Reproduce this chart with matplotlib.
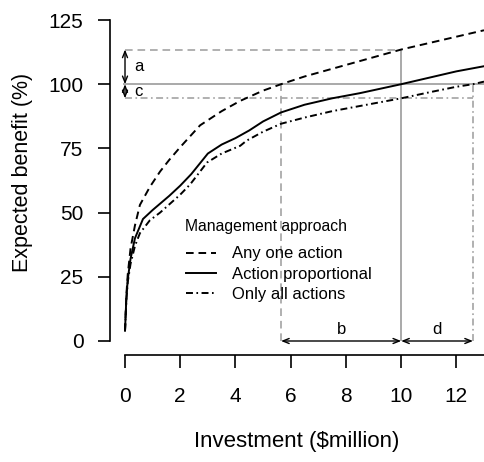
import matplotlib
matplotlib.use("Agg")
import matplotlib.pyplot as plt

plt.rcParams['font.family'] = ['Liberation Sans', 'DejaVu Sans']
plt.rcParams['lines.scale_dashes'] = False

# curves (investment in $million, benefit in %)
any_x = [0, 0.05, 0.1, 0.2, 0.36, 0.54, 0.9, 1.27, 1.6, 2.0, 2.72, 3.5, 4.17, 5.0, 5.65,
         6.5, 7.5, 8.5, 10, 11, 12, 13]
any_y = [4, 18, 26, 36, 45, 53, 60, 66, 70.5, 75.5, 84, 89.5, 93.5, 97.5, 100,
         103, 106, 109, 113.5, 116, 118.5, 121]

prop_x = [0, 0.05, 0.1, 0.2, 0.36, 0.65, 1.0, 1.6, 2.0, 2.4, 3.0, 3.5, 4.0, 4.5, 5.0,
          5.65, 6.5, 7.5, 8.5, 10, 11, 12, 13]
prop_y = [4, 17, 24, 32, 40, 47.5, 51, 56.5, 60.5, 65, 73, 76.5, 79, 82, 85.5,
          89, 92, 94.5, 96.5, 100, 102.5, 105, 107]

all_x = [0, 0.05, 0.1, 0.2, 0.36, 0.54, 0.9, 1.27, 2.0, 2.36, 2.97, 3.5, 4.17, 4.4, 5.0,
         5.65, 6.5, 7.5, 8.5, 10, 11, 12, 12.6, 13]
all_y = [4, 16, 23, 30, 37, 42, 47, 50, 57, 61, 69.5, 73, 76, 78, 81.5,
         84.6, 87, 89.5, 91.5, 94.5, 96.8, 99, 100, 101]

labels = ['Any one action', 'Action proportional', 'Only all actions']

# reference levels
target = 100
any_at10 = 113.5
all_at10 = 94.5
any_reach = 5.65
prop_reach = 10
all_reach = 12.6

gray = '#a3a3a3'
dash = (0, (5.5, 3.5))
dashdot = (0, (5, 2.5, 1.2, 2.5))

fig = plt.figure(figsize=(4.84, 4.62), dpi=100)
ax = fig.add_axes([110 / 484, (462 - 355) / 462, 1 - 110 / 484, (355 - 20) / 462])

# gray guide lines
ax.hlines(target, -0.08, 13, color=gray, lw=1.3)
ax.hlines(any_at10, 0, prop_reach, color=gray, lw=1.2, linestyle=dash)
ax.hlines(all_at10, 0, all_reach, color=gray, lw=1.2, linestyle=dashdot)
ax.vlines(prop_reach, 0, any_at10, color=gray, lw=1.3)
ax.vlines(any_reach, 0, target, color=gray, lw=1.2, linestyle=dash)
ax.vlines(all_reach, 0, target, color=gray, lw=1.2, linestyle=dashdot)

ax.plot(any_x, any_y, color='black', lw=1.4, linestyle=dash, label=labels[0])
ax.plot(prop_x, prop_y, color='black', lw=1.4, linestyle='-', label=labels[1])
ax.plot(all_x, all_y, color='black', lw=1.4, linestyle=dashdot, label=labels[2])

aprops = dict(arrowstyle='<->,head_length=0.45,head_width=0.18', color='black',
              lw=1.0, shrinkA=0, shrinkB=0)
ax.annotate('', xy=(0, any_at10), xytext=(0, target), arrowprops=aprops)
ax.annotate('', xy=(0, all_at10), xytext=(0, target), arrowprops=aprops)
ax.annotate('', xy=(any_reach, 0), xytext=(prop_reach, 0), arrowprops=aprops)
ax.annotate('', xy=(all_reach, 0), xytext=(prop_reach, 0), arrowprops=aprops)
ax.text(0.32, 107, 'a', fontsize=12, ha='left', va='center')
ax.text(0.32, 97.3, 'c', fontsize=12, ha='left', va='center')
ax.text((any_reach + prop_reach) / 2, 4.5, 'b', fontsize=12, ha='center', va='center')
ax.text((prop_reach + all_reach) / 2, 4.5, 'd', fontsize=12, ha='center', va='center')

ax.set_xlim(-15 / 27.6, 13)
ax.set_ylim(-14 / 2.568, 125)
ax.set_xticks([0, 2, 4, 6, 8, 10, 12])
ax.set_yticks([0, 25, 50, 75, 100, 125])
for s in ['top', 'right']:
    ax.spines[s].set_visible(False)
ax.spines['left'].set_bounds(0, 125)
ax.spines['bottom'].set_bounds(0, 13)
for s in ['left', 'bottom']:
    ax.spines[s].set_linewidth(1.2)
ax.tick_params(axis='both', length=9, width=1.2, labelsize=15)
ax.tick_params(axis='x', pad=14)
ax.tick_params(axis='y', pad=10)
ax.set_xlabel('Investment ($million)', fontsize=16, labelpad=18)
ax.set_ylabel('Expected benefit (%)', fontsize=15.5)
ax.yaxis.set_label_coords((33 - 110) / 374, (355 - 172) / 335)

ax.text(185, 462 - 227, 'Management approach', fontsize=11.3, ha='left', va='center',
        transform=None)
ax.legend(loc='upper left', bbox_to_anchor=(178 / 484, (462 - 238) / 462),
          bbox_transform=fig.transFigure, frameon=False, fontsize=12,
          handlelength=1.8, handletextpad=0.95, labelspacing=0.32, borderpad=0)

fig.savefig('out.png', dpi=100)
